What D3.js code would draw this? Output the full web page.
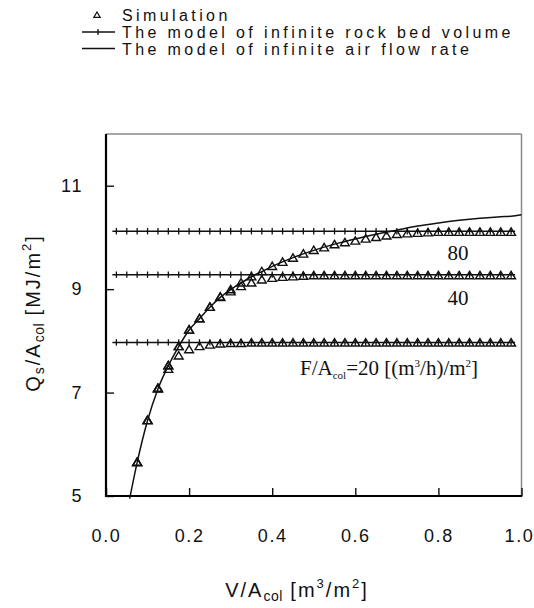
<!DOCTYPE html>
<html>
<head>
<meta charset="utf-8">
<script src="https://cdn.jsdelivr.net/npm/d3@7"></script>
<style>
  body { margin: 0; background: #fff; }
  svg { display: block; }
  .sans { font-family: "Liberation Sans", Arial, sans-serif; fill: #111; }
  .serif { font-family: "Liberation Serif", "Times New Roman", serif; fill: #111; }
</style>
</head>
<body>
<svg id="chart" width="534" height="608"></svg>
<script>
// Bed volume per collector area, V/Acol [m3/m2], where the simulation was sampled
const simVolume = [0.075, 0.1, 0.125, 0.15, 0.175, 0.2, 0.225, 0.25, 0.275, 0.3,
  0.325, 0.35, 0.375, 0.4, 0.425, 0.45, 0.475, 0.5, 0.525, 0.55,
  0.575, 0.6, 0.625, 0.65, 0.675, 0.7, 0.725, 0.75, 0.775, 0.8,
  0.825, 0.85, 0.875, 0.9, 0.925, 0.95, 0.975];

// Simulated stored heat Qs/Acol [MJ/m2] for each air flow rate F/Acol
const simF20 = [5.65, 6.46, 7.07, 7.45, 7.71, 7.83, 7.89, 7.92, 7.94, 7.95,
  7.95, 7.96, 7.96, 7.96, 7.96, 7.96, 7.96, 7.96, 7.96, 7.96,
  7.96, 7.96, 7.96, 7.96, 7.96, 7.96, 7.96, 7.96, 7.96, 7.96,
  7.96, 7.96, 7.96, 7.96, 7.96, 7.96, 7.96];
const simF40 = [5.65, 6.46, 7.08, 7.52, 7.89, 8.21, 8.43, 8.65, 8.84, 8.95,
  9.05, 9.12, 9.18, 9.21, 9.23, 9.24, 9.25, 9.26, 9.26, 9.26,
  9.26, 9.26, 9.26, 9.26, 9.26, 9.26, 9.26, 9.26, 9.26, 9.26,
  9.26, 9.26, 9.26, 9.26, 9.26, 9.26, 9.26];
const simF80 = [5.65, 6.46, 7.08, 7.52, 7.89, 8.21, 8.43, 8.65, 8.85, 8.99,
  9.12, 9.24, 9.34, 9.44, 9.52, 9.60, 9.68, 9.75, 9.80, 9.86,
  9.90, 9.93, 9.97, 10.00, 10.03, 10.06, 10.07, 10.08, 10.09, 10.10,
  10.10, 10.10, 10.10, 10.10, 10.10, 10.10, 10.10];

// Model of infinite rock bed volume: one constant level per flow rate
const flowRates = [20, 40, 80];
const rockBedLevel = [7.97, 9.28, 10.12];
const rockBedVolume = [0.025, 0.05, 0.075, 0.1, 0.125, 0.15, 0.175, 0.2, 0.225, 0.25,
  0.275, 0.3, 0.325, 0.35, 0.375, 0.4, 0.425, 0.45, 0.475, 0.5,
  0.525, 0.55, 0.575, 0.6, 0.625, 0.65, 0.675, 0.7, 0.725, 0.75,
  0.775, 0.8, 0.825, 0.85, 0.875, 0.9, 0.925, 0.95, 0.975];

// Model of infinite air flow rate
const airModelVolume = [0.057, 0.075, 0.1, 0.125, 0.15, 0.175, 0.2, 0.225, 0.25, 0.275,
  0.3, 0.325, 0.35, 0.375, 0.4, 0.45, 0.5, 0.55, 0.6, 0.65,
  0.7, 0.75, 0.8, 0.85, 0.9, 0.95, 0.975, 1.0];
const airModelHeat = [4.95, 5.65, 6.46, 7.07, 7.52, 7.89, 8.21, 8.43, 8.65, 8.84,
  8.99, 9.12, 9.24, 9.34, 9.44, 9.61, 9.75, 9.87, 9.97, 10.06,
  10.14, 10.22, 10.28, 10.33, 10.37, 10.40, 10.41, 10.44];

const xTicks = [0, 0.2, 0.4, 0.6, 0.8, 1.0];
const yTicks = [5, 7, 9, 11];
const legendText = ["Simulation", "The model of infinite rock bed volume", "The model of infinite air flow rate"];

const svg = d3.select("#chart");
const x = d3.scaleLinear().domain([0, 1]).range([106, 521.5]);
const y = d3.scaleLinear().domain([5, 12]).range([496, 134]);

// open triangle marker
const triPath = "M0,-4.3L4.4,3.1L-4.4,3.1Z";

// frame: grey top/right, black left/bottom
svg.append("line").attr("x1", x(0)).attr("x2", x(1)).attr("y1", y(12)).attr("y2", y(12))
  .attr("stroke", "#8a8a8a").attr("stroke-width", 1.5);
svg.append("line").attr("x1", x(1)).attr("x2", x(1)).attr("y1", y(12)).attr("y2", y(5))
  .attr("stroke", "#8a8a8a").attr("stroke-width", 1.5);

// axes with inward ticks
const yAxis = svg.append("g").attr("transform", `translate(${x(0)},0)`)
  .call(d3.axisLeft(y).tickValues(yTicks).tickFormat(d3.format("d"))
    .tickSize(-8).tickPadding(23));
const xAxis = svg.append("g").attr("transform", `translate(0,${y(5)})`)
  .call(d3.axisBottom(x).tickValues(xTicks).tickFormat(d3.format(".1f"))
    .tickSize(-8).tickPadding(33));
[yAxis, xAxis].forEach(g => {
  g.select(".domain").remove();
  g.selectAll(".tick line").attr("stroke", "#111").attr("stroke-width", 1.4);
  g.selectAll(".tick text").attr("class", "sans")
    .style("font-size", "18px").style("letter-spacing", "1.6px").attr("fill", "#111");
});
// keep the last x label inside the page edge
xAxis.selectAll(".tick text").filter(d => d === 1).attr("dx", -2.5);

svg.append("line").attr("x1", x(0)).attr("x2", x(0)).attr("y1", y(12)).attr("y2", y(5) + 1)
  .attr("stroke", "#000").attr("stroke-width", 2.2);
svg.append("line").attr("x1", x(0) - 1).attr("x2", x(1) + 0.75).attr("y1", y(5)).attr("y2", y(5))
  .attr("stroke", "#000").attr("stroke-width", 2.2);

// infinite rock bed volume model: level lines with plus markers
const plot = svg.append("g");
flowRates.forEach((f, i) => {
  const lvl = rockBedLevel[i];
  plot.append("line")
    .attr("x1", x(rockBedVolume[0]) - 4).attr("x2", x(rockBedVolume[rockBedVolume.length - 1]) + 4)
    .attr("y1", y(lvl)).attr("y2", y(lvl))
    .attr("stroke", "#111").attr("stroke-width", 1.5);
  plot.selectAll(null).data(rockBedVolume).join("line")
    .attr("x1", d => x(d)).attr("x2", d => x(d))
    .attr("y1", y(lvl) - 3.2).attr("y2", y(lvl) + 3.2)
    .attr("stroke", "#111").attr("stroke-width", 1.3);
});

// infinite air flow rate model
const airLine = d3.line().x(d => x(d[0])).y(d => y(d[1])).curve(d3.curveMonotoneX);
plot.append("path")
  .datum(airModelVolume.map((v, i) => [v, airModelHeat[i]]))
  .attr("d", airLine).attr("fill", "none").attr("stroke", "#111").attr("stroke-width", 1.5);

// simulation points
[simF20, simF40, simF80].forEach(series => {
  plot.selectAll(null).data(series.map((q, i) => [simVolume[i], q])).join("path")
    .attr("d", triPath)
    .attr("transform", d => `translate(${x(d[0])},${y(d[1])})`)
    .attr("fill", "none").attr("stroke", "#111").attr("stroke-width", 1.4);
});

// flow-rate labels
svg.append("text").attr("class", "serif").attr("x", 458).attr("y", 260)
  .attr("text-anchor", "middle").style("font-size", "21px").text(flowRates[2]);
svg.append("text").attr("class", "serif").attr("x", 458).attr("y", 305)
  .attr("text-anchor", "middle").style("font-size", "21px").text(flowRates[1]);
const fLab = svg.append("text").attr("class", "serif").attr("x", 300).attr("y", 375)
  .style("font-size", "21px");
fLab.append("tspan").text("F/A");
fLab.append("tspan").attr("dy", 4).style("font-size", "11px").text("col");
fLab.append("tspan").attr("dy", -4).text("=" + flowRates[0] + " [(m");
fLab.append("tspan").attr("dy", -8).style("font-size", "11px").text("3");
fLab.append("tspan").attr("dy", 8).text("/h)/m");
fLab.append("tspan").attr("dy", -8).style("font-size", "11px").text("2");
fLab.append("tspan").attr("dy", 8).text("]");

// axis titles
const xt = svg.append("text").attr("class", "sans").attr("x", 297).attr("y", 597)
  .attr("text-anchor", "middle").style("font-size", "20px").style("letter-spacing", "2px");
xt.append("tspan").text("V/A");
xt.append("tspan").attr("dy", 4).style("font-size", "14px").style("letter-spacing", "0.5px").text("col");
xt.append("tspan").attr("dy", -4).text(" [m");
xt.append("tspan").attr("dy", -9).style("font-size", "13px").text("3");
xt.append("tspan").attr("dy", 9).text("/m");
xt.append("tspan").attr("dy", -9).style("font-size", "13px").text("2");
xt.append("tspan").attr("dy", 9).text("]");

const yt = svg.append("text").attr("class", "sans")
  .attr("transform", "translate(40,313) rotate(-90)")
  .attr("text-anchor", "middle").style("font-size", "20px").style("letter-spacing", "2px");
yt.append("tspan").text("Q");
yt.append("tspan").attr("dy", 4).style("font-size", "14px").text("s");
yt.append("tspan").attr("dy", -4).text("/A");
yt.append("tspan").attr("dy", 4).style("font-size", "14px").style("letter-spacing", "0.5px").text("col");
yt.append("tspan").attr("dy", -4).text(" [MJ/m");
yt.append("tspan").attr("dy", -9).style("font-size", "13px").text("2");
yt.append("tspan").attr("dy", 9).text("]");

// legend
const lg = svg.append("g");
lg.append("path").attr("d", "M0,-3L3.2,2.4L-3.2,2.4Z").attr("transform", "translate(97,15)")
  .attr("fill", "none").attr("stroke", "#111").attr("stroke-width", 1.2);
lg.append("line").attr("x1", 82).attr("x2", 115).attr("y1", 32).attr("y2", 32)
  .attr("stroke", "#111").attr("stroke-width", 1.3);
lg.append("line").attr("x1", 98).attr("x2", 98).attr("y1", 29).attr("y2", 35)
  .attr("stroke", "#111").attr("stroke-width", 1.3);
lg.append("line").attr("x1", 82).attr("x2", 115).attr("y1", 48.5).attr("y2", 48.5)
  .attr("stroke", "#111").attr("stroke-width", 1.3);
lg.selectAll("text.leg").data(legendText).join("text")
  .attr("class", "sans leg").attr("x", 122).attr("y", (d, i) => 21 + i * 17)
  .style("font-size", "16px").style("letter-spacing", "3.4px").text(d => d);
</script>
</body>
</html>
